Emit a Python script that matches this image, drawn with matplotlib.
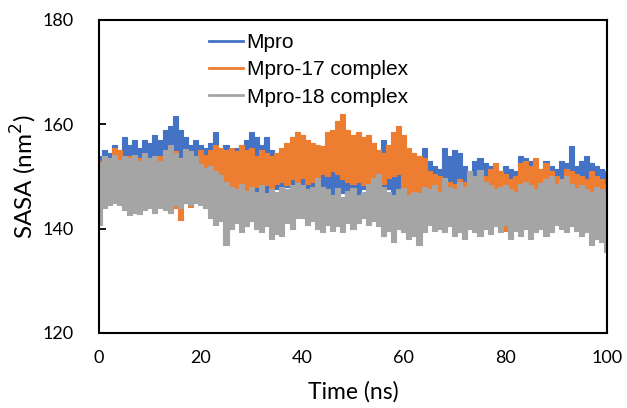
import numpy as np
import matplotlib.pyplot as plt
from matplotlib.lines import Line2D

plt.rcParams['font.family'] = ['Lato', 'DejaVu Sans']

# top and bottom of each noisy trace, read at every ns (t = 0..100)
time_ns = np.arange(0, 101)

mpro_hi = [154, 155, 154.5, 156, 155, 157.5, 156, 157, 155.5, 157,
           156.5, 158, 157, 159, 159.7, 161.5, 159, 157.5, 156, 157,
           156, 155.5, 156.5, 158.5, 155, 156, 154.5, 155.5, 156, 157,
           158.5, 157.5, 156, 157.5, 155, 154, 153, 154, 152, 151,
           152, 151, 153, 152, 151, 152, 153.5, 152, 153, 151.5,
           152, 151, 152.5, 151, 152, 153, 157, 154, 152, 151,
           151.5, 150, 152, 154, 155.5, 153, 152, 151.5, 155.5, 154,
           155, 154.5, 152, 151, 153, 153.5, 152.5, 152, 151.5, 151,
           152, 151.5, 151, 154, 153.5, 153, 152, 151.5, 153, 152,
           151.5, 153, 152.5, 155.8, 152, 153, 154, 152.5, 152, 151.5,
           151]
mpro_lo = [145, 147, 146.5, 147.5, 145, 148, 147, 148.5, 147.5, 148,
           147, 148.5, 148, 147, 148.5, 149, 148, 147.5, 148, 147,
           146, 147.5, 148, 147, 148.5, 147.5, 148, 147, 146.5, 148,
           147.5, 146, 147, 145.8, 147, 147.5, 146.5, 148, 147, 146,
           146, 145.8, 147, 146.5, 147, 146, 146.5, 145.5, 146.8, 146,
           147, 146, 147.5, 146.5, 146, 147, 146.5, 147.5, 146, 145.8,
           145.8, 146.5, 147.5, 146, 147, 146.5, 147.5, 146, 147, 145.5,
           146, 146.5, 145.8, 147, 146, 147, 146.5, 146, 147, 146.5,
           146.5, 145.5, 147, 146, 146.5, 147.5, 146, 147, 146.5, 146,
           147, 146.5, 145.8, 147, 146, 146.5, 147, 146, 146.5, 147,
           147]

c17_hi = [153, 152.5, 153.5, 155.5, 155, 153, 154, 152, 153.5, 151.5,
          153.5, 152, 154, 152.5, 153, 154.8, 153.5, 154.5, 153, 152.5,
          155, 154.2, 155, 156, 155.5, 155, 155.5, 154.8, 156, 155,
          155.5, 154, 155, 154.5, 154, 154.5, 155.5, 156.5, 157.5, 158.5,
          158, 157, 156.5, 156, 155.8, 158.5, 159, 160.6, 161.9, 159,
          158, 158.5, 157.5, 158, 156.5, 155, 154.5, 156, 158.5, 159.7,
          158, 155.5, 154.5, 154, 153.5, 151, 150.5, 150, 149.5, 149,
          148.5, 149.5, 149, 148, 148, 149, 150, 151.5, 152.5, 151,
          150.5, 149.5, 150, 152.5, 153, 152, 153.5, 151.5, 152.5, 151,
          150, 149.5, 151.5, 151, 150.5, 150, 149.5, 151, 150, 149.5,
          148.5]
c17_lo = [146, 144.8, 145.5, 147, 144.8, 146.5, 147, 146, 145.5, 146,
          145.2, 146, 145.5, 144.5, 146, 144, 141.6, 145, 144.2, 145.5,
          145.8, 144, 146.5, 148, 147, 147.5, 146.8, 147.5, 148, 146.5,
          147, 148, 147.5, 148.4, 147.5, 148.5, 149, 148.4, 149.5, 148.5,
          149.7, 148.5, 149, 149.7, 150.5, 150, 151, 150.5, 149.5, 149,
          148.5, 149, 148.4, 148, 148.5, 149, 148.5, 149.7, 150, 150.5,
          147.7, 146.5, 147, 145.8, 145, 146, 144.5, 145, 144.5, 142,
          141, 140, 139.5, 140.5, 140, 141, 145, 145.5, 144.5, 145,
          139.5, 140, 145, 146, 145.5, 146.5, 145, 146, 145.5, 146.5,
          145, 146, 145.5, 146.5, 145, 146, 145.5, 146.5, 145, 146,
          146]

c18_hi = [152.5, 154, 153.5, 154.2, 153.2, 154, 153.5, 154.2, 153, 154.5,
          153.5, 154, 153, 155, 156.1, 154.5, 153.5, 155.2, 154.8, 154,
          152.3, 151.6, 152, 151, 150.3, 149, 148, 147.5, 148.5, 147.2,
          148, 147, 148.4, 146.8, 147.5, 147.1, 148, 147.5, 148.4, 148.8,
          148.4, 147.5, 148, 149.7, 148, 147.5, 146.5, 147.7, 146, 147.2,
          147.7, 146.5, 147, 148.5, 149.7, 150.4, 148, 147, 146.5, 147.5,
          147.7, 146.5, 147, 146.8, 148, 147.5, 148.4, 147, 149.7, 148,
          147.5, 149, 148, 151, 150, 151.3, 149, 148.4, 147.5, 148,
          148.4, 147.5, 147.1, 148.5, 149, 148.4, 147.5, 148.8, 149.5, 150,
          148.5, 149.5, 150, 148.5, 147.8, 148.4, 147.5, 147.1, 148, 147.5,
          147]
c18_lo = [140.6, 143.9, 144.5, 145, 144.5, 143.5, 142.6, 143, 142.8, 143.5,
          143.9, 143, 144, 143.5, 143, 144.5, 144, 145, 144.5, 145,
          144.5, 143.9, 142, 140.6, 141.5, 136.8, 140, 141, 139.4, 140.5,
          141.5, 140, 139.4, 140.5, 138, 139, 138.5, 141, 140, 142,
          142, 140.6, 141.5, 140, 139.4, 140.6, 139.5, 140.5, 139.4, 141,
          140, 141, 142, 140.6, 141.5, 140.5, 138.5, 139.5, 137.4, 140,
          139.4, 138, 138.5, 136.8, 139.4, 140.6, 139.5, 140, 139.4, 140.5,
          138.5, 139.4, 138, 140, 139.4, 138.5, 140, 139, 140.5, 139.4,
          140.6, 138, 139.5, 138.5, 140, 138, 139.4, 140, 138.5, 139.4,
          140.6, 140, 139.4, 140.5, 139.5, 138.5, 139.4, 136.8, 138, 137.5,
          135.5]

labels = ['Mpro', 'Mpro-17 complex', 'Mpro-18 complex']
colors = ['#4472C4', '#ED7D31', '#A5A5A5']
bands = [(mpro_hi, mpro_lo), (c17_hi, c17_lo), (c18_hi, c18_lo)]

fig = plt.figure(figsize=(6.27, 4.08), dpi=100)
ax = fig.add_axes([0.158, 0.184, 0.81, 0.767])
for (hi, lo), c in zip(bands, colors):
    ax.fill_between(time_ns, lo, hi, step='mid', color=c, lw=0.8)

ax.set_xlim(0, 100)
ax.set_ylim(120, 180)
ax.set_xticks(np.arange(0, 101, 20))
ax.set_yticks(np.arange(120, 181, 20))
ax.tick_params(axis='x', length=0, pad=12, labelsize=13, colors='#000000')
ax.tick_params(axis='y', direction='in', length=5, width=1.3, pad=18, labelsize=13)
for s in ax.spines.values():
    s.set_linewidth(1.5)

ax.set_xlabel('Time (ns)', fontsize=16.5, labelpad=11)
ax.set_ylabel('SASA (nm$^2$)', fontsize=17.5, labelpad=3)

handles = [Line2D([], [], color=c, lw=2) for c in colors]
ax.legend(handles, labels, loc='upper left', bbox_to_anchor=(0.18, 1.018), frameon=False,
          prop={'family': ['Liberation Sans'], 'size': 15},
          handlelength=1.6, handletextpad=0.2, labelspacing=0.4)

fig.savefig('out.png', dpi=100)
